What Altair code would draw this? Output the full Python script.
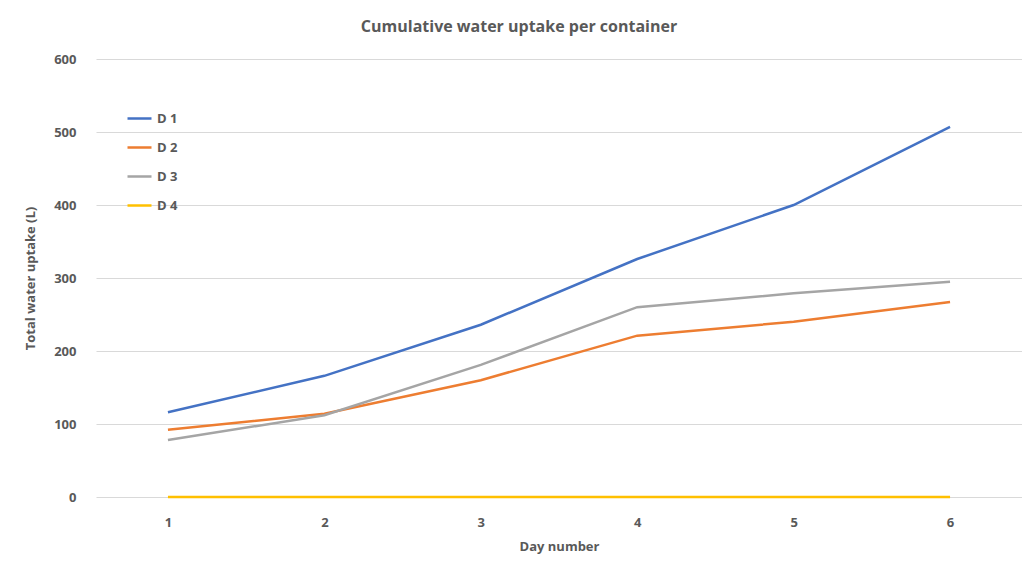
import altair as alt
import pandas as pd

days = [1, 2, 3, 4, 5, 6]
series = ["D 1", "D 2", "D 3", "D 4"]
d1 = [116, 166, 236, 326, 400, 507]
d2 = [92, 114, 160, 221, 240, 267]
d3 = [78, 112, 181, 260, 279, 295]
d4 = [0, 0, 0, 0, 0, 0]
colors = ["#4472C4", "#ED7D31", "#A5A5A5", "#FFC000"]

rows = []
for name, vals in zip(series, [d1, d2, d3, d4]):
    for d, v in zip(days, vals):
        rows.append({"day": str(d), "series": name, "value": v})
df = pd.DataFrame(rows)

font = "Open Sans"
gray = "#595959"

chart = alt.Chart(df).mark_line(strokeWidth=2.5).encode(
    x=alt.X("day:O", title="Day number",
            scale=alt.Scale(padding=0.46),
            axis=alt.Axis(labelAngle=0, ticks=False, domain=False, grid=False,
                          labelPadding=19, titlePadding=11, labelFontSize=13,
                          titleFontSize=13)),
    y=alt.Y("value:Q", title="Total water uptake (L)",
            scale=alt.Scale(domain=[0, 600]),
            axis=alt.Axis(values=[0, 100, 200, 300, 400, 500, 600], ticks=False,
                          domain=False, labelPadding=20, titlePadding=16,
                          labelFontSize=13, titleFontSize=13)),
    color=alt.Color("series:N", scale=alt.Scale(domain=series, range=colors),
                    legend=alt.Legend(title=None, orient="none", legendX=30, legendY=46,
                                      symbolType="stroke", symbolSize=576,
                                      symbolStrokeWidth=2.5, labelFontSize=13,
                                      labelFont=font, labelColor=gray,
                                      labelFontWeight="bold", rowPadding=8,
                                      labelOffset=4)),
).properties(
    width=926, height=438,
    title=alt.TitleParams("Cumulative water uptake per container", font=font,
                          fontSize=16, fontWeight="bold", color=gray, dx=-40,
                          offset=18),
    autosize=alt.AutoSizeParams(type="none"),
    padding={"left": 88, "top": 51, "right": 0, "bottom": 60},
).configure_axis(
    labelFont=font, titleFont=font, labelColor=gray, titleColor=gray,
    labelFontWeight="bold", titleFontWeight="bold", gridColor="#d9d9d9",
).configure_view(stroke=None)

chart.save("out.html", embed_options={"renderer": "svg", "actions": False})
